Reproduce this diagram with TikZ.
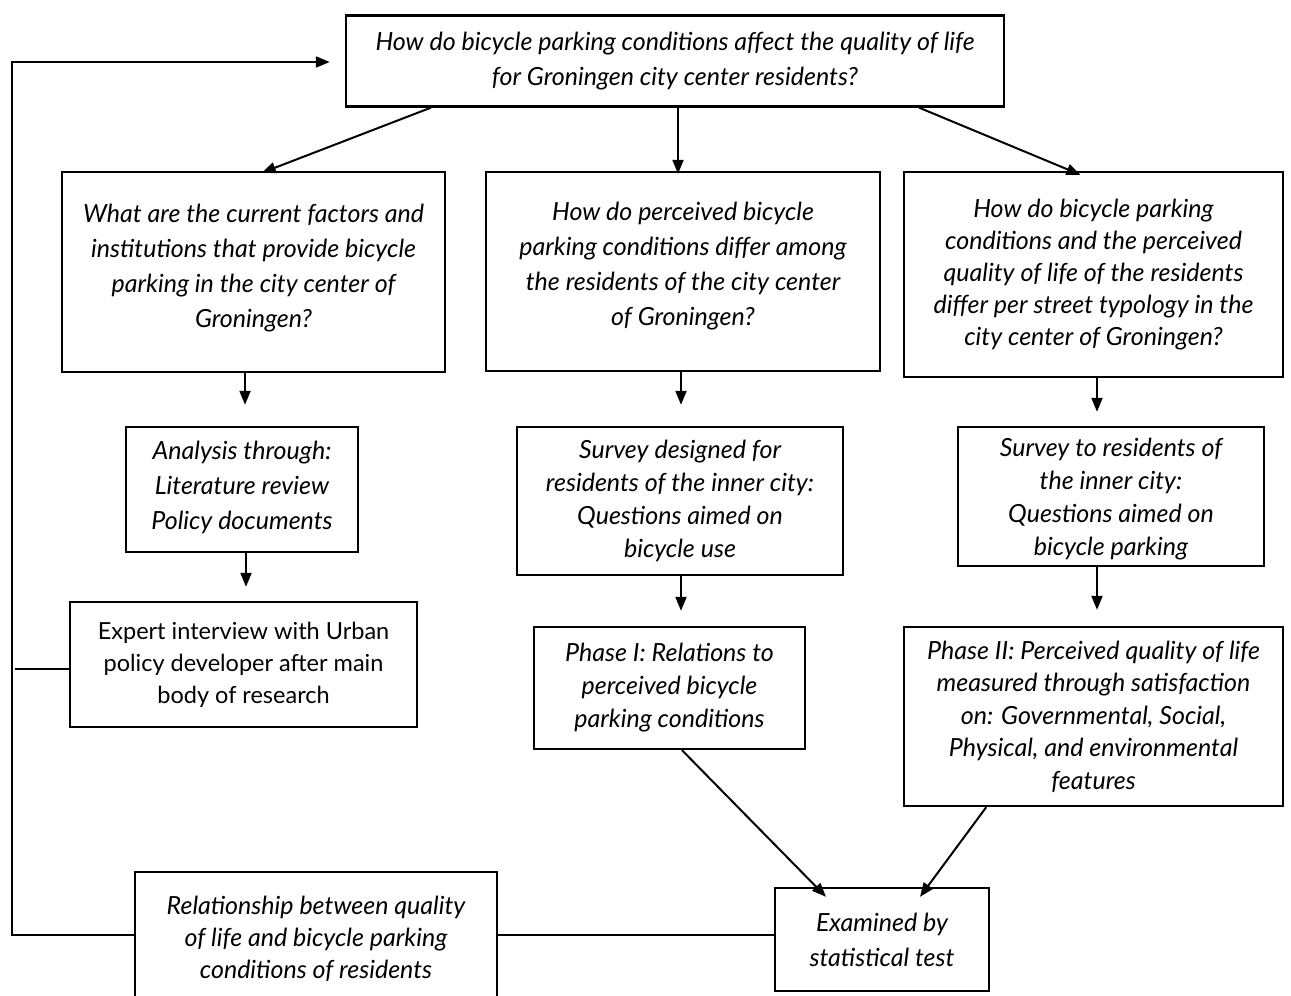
\documentclass[tikz,border=0pt]{standalone}
\usepackage{fontspec}
\setmainfont{Lato}
\usetikzlibrary{arrows.meta}
\tikzset{
  box/.style={draw, line width=2.4pt, inner sep=0pt, align=center,
    font=\fontsize{25}{35}\selectfont\itshape},
  uprbox/.style={box, font=\fontsize{23.5}{32}\selectfont},
  arr/.style={line width=2pt, -{Triangle[length=14pt,width=11pt]}},
  ln/.style={line width=2pt}
}
\begin{document}
\begin{tikzpicture}[x=1pt,y=-1pt]
\useasboundingbox (0,0) rectangle (1291,996);
\clip (0,0) rectangle (1291,996);
\fill[white] (0,0) rectangle (1291,996);

\node[box, minimum width=658pt, minimum height=91pt] (top) at (675,61)
  {How do bicycle parking conditions affect the quality of life\\for Groningen city center residents?};

\node[box, minimum width=383pt, minimum height=200pt, text depth=12pt] (A) at (253.5,272)
  {What are the current factors and\\institutions that provide bicycle\\parking in the city center of\\Groningen?};
\node[box, minimum width=394pt, minimum height=199pt, text depth=16pt] (B) at (683,271.5)
  {How do perceived bicycle\\parking conditions differ among\\the residents of the city center\\of Groningen?};
\node[box, minimum width=379pt, minimum height=205pt, font=\fontsize{25}{32}\selectfont\itshape] (C) at (1093.5,274.5)
  {How do bicycle parking\\conditions and the perceived\\quality of life of the residents\\differ per street typology in the\\city center of Groningen?};

\node[box, minimum width=232pt, minimum height=125pt, text depth=8pt] (An) at (242,489.5)
  {Analysis through:\\Literature review\\Policy documents};
\node[box, minimum width=326pt, minimum height=148pt, font=\fontsize{25}{33}\selectfont\itshape] (SB) at (680,501)
  {Survey designed for\\residents of the inner city:\\Questions aimed on\\bicycle use};
\node[box, minimum width=306pt, minimum height=139pt, text depth=0pt, font=\fontsize{25}{33}\selectfont\itshape] (SC) at (1111,496.5)
  {Survey to residents of\\the inner city:\\Questions aimed on\\bicycle parking};

\node[uprbox, minimum width=347pt, minimum height=125pt] (Ex) at (243.5,664.5)
  {Expert interview with Urban\\policy developer after main\\body of research};
\node[box, minimum width=271pt, minimum height=122pt, font=\fontsize{25}{33}\selectfont\itshape] (P1) at (669.5,688)
  {Phase I: Relations to\\perceived bicycle\\parking conditions};
\node[box, minimum width=379pt, minimum height=179pt, font=\fontsize{25}{32.5}\selectfont\itshape] (P2) at (1093.5,716.5)
  {Phase II: Perceived quality of life\\measured through satisfaction\\on: Governmental, Social,\\Physical, and environmental\\features};

\node[box, minimum width=214pt, minimum height=103pt] (Exm) at (882,939.5)
  {Examined by\\statistical test};
\node[box, minimum width=362pt, minimum height=138pt, text depth=8pt, font=\fontsize{25}{32}\selectfont\itshape] (Rel) at (316,941)
  {Relationship between quality\\of life and bicycle parking\\conditions of residents};

% arrows from top question
\draw[arr] ([xshift=86pt]top.south west) -- ([xshift=201pt,yshift=-2pt]A.north west);
\draw[arr] ([xshift=3pt]top.south) -- ([xshift=-5pt,yshift=-3pt]B.north);
\draw[arr] ([xshift=-86pt]top.south east) -- ([xshift=-13pt,yshift=-4pt]C.north);

% column arrows
\draw[arr, shorten >=21pt] ([xshift=-8.5pt]A.south) -- ([xshift=3pt]An.north);
\draw[arr, shorten >=21pt] ([xshift=-2pt]B.south) -- ([xshift=1pt]SB.north);
\draw[arr, shorten >=14pt] ([xshift=3.5pt]C.south) -- ([xshift=-14pt]SC.north);
\draw[arr, shorten >=14pt] ([xshift=4pt]An.south) -- ([xshift=2.5pt]Ex.north);
\draw[arr, shorten >=15pt] ([xshift=1pt]SB.south) -- ([xshift=11.5pt]P1.north);
\draw[arr, shorten >=16pt] ([xshift=-14pt]SC.south) -- ([xshift=3.5pt]P2.north);

% into statistical test
\draw[arr] ([xshift=12.5pt]P1.south) -- ([xshift=-56pt,yshift=-10pt]Exm.north);
\draw[arr] ([xshift=-298pt]P2.south east) -- ([xshift=38pt,yshift=-10pt]Exm.north);

% bottom link and feedback loop
\coordinate (c1) at (12,935);
\coordinate (c2) at (12,62);
\coordinate (c3) at (15,669);
\draw[ln] (Rel.east |- c1) -- (Exm.west |- c1);
\draw[arr, shorten >=15pt, line join=miter] (Rel.west |- c1) -- (c1) -- (c2) -- (c2 -| top.west);
\draw[ln] (c3) -- (c3 -| Ex.west);
\end{tikzpicture}
\end{document}
